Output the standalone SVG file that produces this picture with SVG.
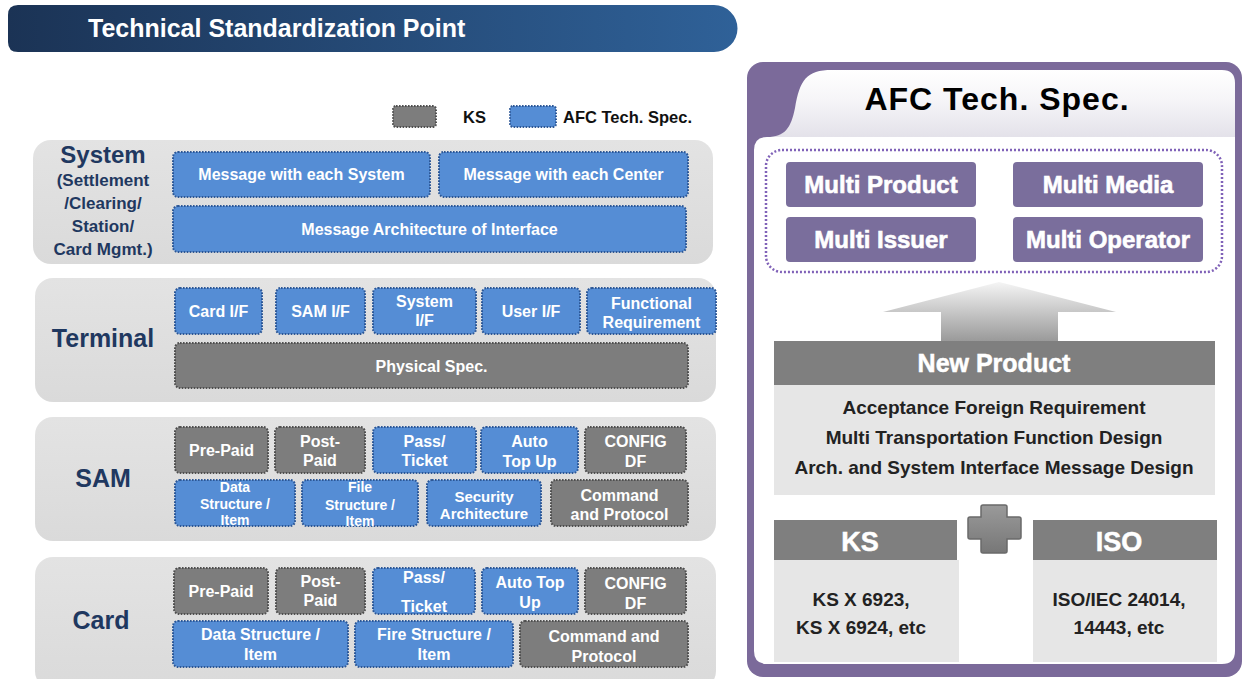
<svg xmlns="http://www.w3.org/2000/svg" width="1243" height="679" viewBox="0 0 1243 679">
<defs>
<linearGradient id="titleGrad" x1="0" y1="0" x2="1" y2="0">
<stop offset="0" stop-color="#1b3355"/>
<stop offset="1" stop-color="#2f6198"/>
</linearGradient>
<linearGradient id="innerGrad" gradientUnits="userSpaceOnUse" x1="0" y1="70" x2="0" y2="664">
<stop offset="0" stop-color="#ffffff"/>
<stop offset="0.05" stop-color="#f6f5f8"/>
<stop offset="0.112" stop-color="#e4e2ea"/>
<stop offset="0.113" stop-color="#ffffff"/>
<stop offset="1" stop-color="#ffffff"/>
</linearGradient>
<linearGradient id="arrowGrad" gradientUnits="userSpaceOnUse" x1="0" y1="282" x2="0" y2="341">
<stop offset="0" stop-color="#f5f5f5"/>
<stop offset="1" stop-color="#9a9a9a"/>
</linearGradient>
<linearGradient id="plusGrad" x1="0" y1="0" x2="0" y2="1">
<stop offset="0" stop-color="#9a9a9a"/>
<stop offset="1" stop-color="#777777"/>
</linearGradient>
<linearGradient id="panelGrad" x1="0" y1="0" x2="0" y2="1">
<stop offset="0" stop-color="#e3e3e3"/>
<stop offset="1" stop-color="#dadada"/>
</linearGradient>
</defs>
<style>
.panel{fill:url(#panelGrad)}
.bb{fill:#558dd5;stroke:#2c5796;stroke-width:2;stroke-dasharray:1.6 1.4}
.gb{fill:#7d7d7d;stroke:#4f4f4f;stroke-width:2;stroke-dasharray:1.6 1.4}
.bt{font-family:"Liberation Sans",Arial,sans-serif;font-weight:bold;font-size:16px;fill:#ffffff;text-anchor:middle}
.bt14{font-size:14px}
.bt15{font-size:15px}
.lbl{font-family:"Liberation Sans",Arial,sans-serif;font-weight:bold;fill:#1f3860;text-anchor:middle}
.pb{fill:#7a6e9c}
.pt{font-family:"Liberation Sans",Arial,sans-serif;font-weight:bold;font-size:24px;fill:#ffffff;stroke:#ffffff;stroke-width:0.6;text-anchor:middle}
.hd{fill:#7f7f7f}
.bd{fill:#e6e6e6}
.ht{font-family:"Liberation Sans",Arial,sans-serif;font-weight:bold;fill:#ffffff;stroke:#ffffff;stroke-width:0.5;text-anchor:middle}
.dt{font-family:"Liberation Sans",Arial,sans-serif;font-weight:bold;font-size:19px;fill:#222222;text-anchor:middle}
.st{font-family:"Liberation Sans",Arial,sans-serif;font-weight:bold;font-size:19px;fill:#222222;text-anchor:middle}
</style>
<rect width="1243" height="679" fill="#ffffff"/>

<g id="title">
<path d="M18 5 H714 A23.5 23.5 0 0 1 714 52 H18 Q8 52 8 42 V15 Q8 5 18 5 Z" fill="url(#titleGrad)"/>
<text x="88" y="37" font-family="'Liberation Sans',Arial,sans-serif" font-weight="bold" font-size="25" fill="#ffffff">Technical Standardization Point</text>
</g>

<g id="legend">
<rect x="393" y="106" width="43" height="21" rx="3" class="gb"/>
<text x="463" y="123" font-family="'Liberation Sans',Arial,sans-serif" font-weight="bold" font-size="16.5" fill="#111">KS</text>
<rect x="510" y="106" width="46" height="21" rx="3" class="bb"/>
<text x="563" y="123" font-family="'Liberation Sans',Arial,sans-serif" font-weight="bold" font-size="16.5" fill="#111">AFC Tech. Spec.</text>
</g>

<g id="system">
<rect x="33" y="140" width="680" height="124" rx="18" class="panel"/>
<text class="lbl" x="103" y="163" font-size="24">System</text>
<text class="lbl" x="103" y="186" font-size="17">(Settlement</text>
<text class="lbl" x="103" y="209" font-size="17">/Clearing/</text>
<text class="lbl" x="103" y="232" font-size="17">Station/</text>
<text class="lbl" x="103" y="255" font-size="17">Card Mgmt.)</text>
<g id="sys-msg-system"><rect x="173" y="152" width="257" height="45" rx="5" class="bb"/><text class="bt" x="301.5" y="180">Message with each System</text></g>
<g id="sys-msg-center"><rect x="439" y="152" width="249" height="45" rx="5" class="bb"/><text class="bt" x="563.5" y="180">Message with each Center</text></g>
<g id="sys-msg-arch"><rect x="173" y="206" width="513" height="46" rx="5" class="bb"/><text class="bt" x="429.5" y="235">Message Architecture of Interface</text></g>
</g>

<g id="terminal">
<rect x="35" y="278" width="681" height="124" rx="18" class="panel"/>
<text class="lbl" x="103" y="347" font-size="25">Terminal</text>
<g id="t-card"><rect x="175" y="288" width="87" height="46" rx="5" class="bb"/><text class="bt" x="218.5" y="317">Card I/F</text></g>
<g id="t-sam"><rect x="276" y="288" width="89" height="46" rx="5" class="bb"/><text class="bt" x="320.5" y="317">SAM I/F</text></g>
<g id="t-system"><rect x="373" y="288" width="103" height="46" rx="5" class="bb"/><text class="bt" x="424.5" y="307">System</text><text class="bt" x="424.5" y="326">I/F</text></g>
<g id="t-user"><rect x="482" y="288" width="98" height="46" rx="5" class="bb"/><text class="bt" x="531" y="317">User I/F</text></g>
<g id="t-func"><rect x="587" y="288" width="129" height="46" rx="5" class="bb"/><text class="bt" x="651.5" y="309">Functional</text><text class="bt" x="651.5" y="328">Requirement</text></g>
<g id="t-phys"><rect x="175" y="343" width="513" height="45" rx="5" class="gb"/><text class="bt" x="431.5" y="372">Physical Spec.</text></g>
</g>

<g id="sam">
<rect x="35" y="417" width="681" height="124" rx="18" class="panel"/>
<text class="lbl" x="103" y="487" font-size="25">SAM</text>
<g id="s-prepaid"><rect x="175" y="427" width="93" height="46" rx="5" class="gb"/><text class="bt" x="221.5" y="456">Pre-Paid</text></g>
<g id="s-postpaid"><rect x="275" y="427" width="90" height="46" rx="5" class="gb"/><text class="bt" x="320" y="447">Post-</text><text class="bt" x="320" y="466">Paid</text></g>
<g id="s-pass"><rect x="373" y="427" width="103" height="46" rx="5" class="bb"/><text class="bt" x="424.5" y="447">Pass/</text><text class="bt" x="424.5" y="466">Ticket</text></g>
<g id="s-auto"><rect x="481" y="427" width="97" height="46" rx="5" class="bb"/><text class="bt" x="529.5" y="447">Auto</text><text class="bt" x="529.5" y="467">Top Up</text></g>
<g id="s-config"><rect x="585" y="427" width="101" height="46" rx="5" class="gb"/><text class="bt" x="635.5" y="447">CONFIG</text><text class="bt" x="635.5" y="467">DF</text></g>
<g id="s-data"><rect x="175" y="480" width="120" height="46" rx="5" class="bb"/><text class="bt bt14" x="235" y="492">Data</text><text class="bt bt14" x="235" y="509">Structure /</text><text class="bt bt14" x="235" y="525">Item</text></g>
<g id="s-file"><rect x="302" y="480" width="116" height="46" rx="5" class="bb"/><text class="bt bt14" x="360" y="492">File</text><text class="bt bt14" x="360" y="510">Structure /</text><text class="bt bt14" x="360" y="526">Item</text></g>
<g id="s-security"><rect x="427" y="480" width="114" height="46" rx="5" class="bb"/><text class="bt bt15" x="484" y="502">Security</text><text class="bt bt15" x="484" y="519">Architecture</text></g>
<g id="s-command"><rect x="551" y="480" width="137" height="46" rx="5" class="gb"/><text class="bt" x="619.5" y="501">Command</text><text class="bt" x="619.5" y="520">and Protocol</text></g>
</g>

<g id="card">
<rect x="35" y="557" width="681" height="132" rx="18" class="panel"/>
<text class="lbl" x="101" y="629" font-size="25">Card</text>
<g id="c-prepaid"><rect x="174" y="568" width="94" height="46" rx="5" class="gb"/><text class="bt" x="221" y="597">Pre-Paid</text></g>
<g id="c-postpaid"><rect x="276" y="568" width="89" height="46" rx="5" class="gb"/><text class="bt" x="320.5" y="587">Post-</text><text class="bt" x="320.5" y="606">Paid</text></g>
<g id="c-pass"><rect x="373" y="568" width="102" height="46" rx="5" class="bb"/><text class="bt" x="424" y="583">Pass/</text><text class="bt" x="424" y="612">Ticket</text></g>
<g id="c-auto"><rect x="482" y="568" width="96" height="46" rx="5" class="bb"/><text class="bt" x="530" y="588">Auto Top</text><text class="bt" x="530" y="608">Up</text></g>
<g id="c-config"><rect x="585" y="568" width="101" height="46" rx="5" class="gb"/><text class="bt" x="635.5" y="589">CONFIG</text><text class="bt" x="635.5" y="609">DF</text></g>
<g id="c-data"><rect x="173" y="621" width="175" height="46" rx="5" class="bb"/><text class="bt" x="260.5" y="640">Data Structure /</text><text class="bt" x="260.5" y="660">Item</text></g>
<g id="c-fire"><rect x="355" y="621" width="158" height="46" rx="5" class="bb"/><text class="bt" x="434" y="640">Fire Structure /</text><text class="bt" x="434" y="660">Item</text></g>
<g id="c-command"><rect x="520" y="621" width="168" height="46" rx="5" class="gb"/><text class="bt" x="604" y="642">Command and</text><text class="bt" x="604" y="662">Protocol</text></g>
</g>

<g id="afc-panel">
<rect x="747" y="62" width="495" height="615" rx="16" fill="#7b6a9a"/>
<path d="M754 150 Q754 137 767 137 C785 137 791 128 795 108 C800 80 806 70 832 70 L1222 70 Q1235 70 1235 83 L1235 651 Q1235 664 1222 664 L767 664 Q754 664 754 651 Z" fill="url(#innerGrad)"/>
<text x="997" y="110" font-family="'Liberation Sans',Arial,sans-serif" font-weight="bold" font-size="32" letter-spacing="1" fill="#000000" text-anchor="middle">AFC Tech. Spec.</text>
<rect x="766" y="150" width="456" height="122" rx="16" fill="none" stroke="#8062b8" stroke-width="2.5" stroke-dasharray="2 2"/>
</g>

<g id="multi-product"><rect x="786" y="162" width="190" height="45" rx="4" class="pb"/><text class="pt" x="881" y="193">Multi Product</text></g>
<g id="multi-media"><rect x="1013" y="162" width="190" height="45" rx="4" class="pb"/><text class="pt" x="1108" y="193">Multi Media</text></g>
<g id="multi-issuer"><rect x="786" y="217" width="190" height="45" rx="4" class="pb"/><text class="pt" x="881" y="248">Multi Issuer</text></g>
<g id="multi-operator"><rect x="1013" y="217" width="190" height="45" rx="4" class="pb"/><text class="pt" x="1108" y="248">Multi Operator</text></g>

<g id="connectors">
<path d="M999 282 L1116 312 L1058 312 L1058 341 L941 341 L941 312 L883 312 Z" fill="url(#arrowGrad)"/>
</g>

<g id="new-product">
<rect x="774" y="341" width="441" height="44" class="hd"/>
<text class="ht" x="994" y="372" font-size="25">New Product</text>
<rect x="774" y="385" width="441" height="110" class="bd"/>
<text class="dt" x="994" y="414">Acceptance Foreign Requirement</text>
<text class="dt" x="994" y="444">Multi Transportation Function Design</text>
<text class="dt" x="994" y="474">Arch. and System Interface Message Design</text>
</g>

<g id="plus">
<path d="M983 505 H1005 Q1007 505 1007 507 V517 H1019 Q1021 517 1021 519 V537 Q1021 539 1019 539 H1007 V551 Q1007 553 1005 553 H983 Q981 553 981 551 V539 H970 Q968 539 968 537 V519 Q968 517 970 517 H981 V507 Q981 505 983 505 Z" fill="url(#plusGrad)" stroke="#6a6a6a" stroke-width="1.5"/>
</g>

<g id="ks">
<rect x="774" y="520" width="183" height="40" class="hd"/>
<text class="ht" x="860" y="551" font-size="27">KS</text>
<rect x="774" y="560" width="185" height="102" class="bd"/>
<text class="st" x="861" y="606">KS X 6923,</text>
<text class="st" x="861" y="634">KS X 6924, etc</text>
</g>

<g id="iso">
<rect x="1033" y="520" width="184" height="40" class="hd"/>
<text class="ht" x="1119" y="551" font-size="27">ISO</text>
<rect x="1033" y="560" width="184" height="102" class="bd"/>
<text class="st" x="1119" y="606">ISO/IEC 24014,</text>
<text class="st" x="1119" y="634">14443, etc</text>
</g>
</svg>
